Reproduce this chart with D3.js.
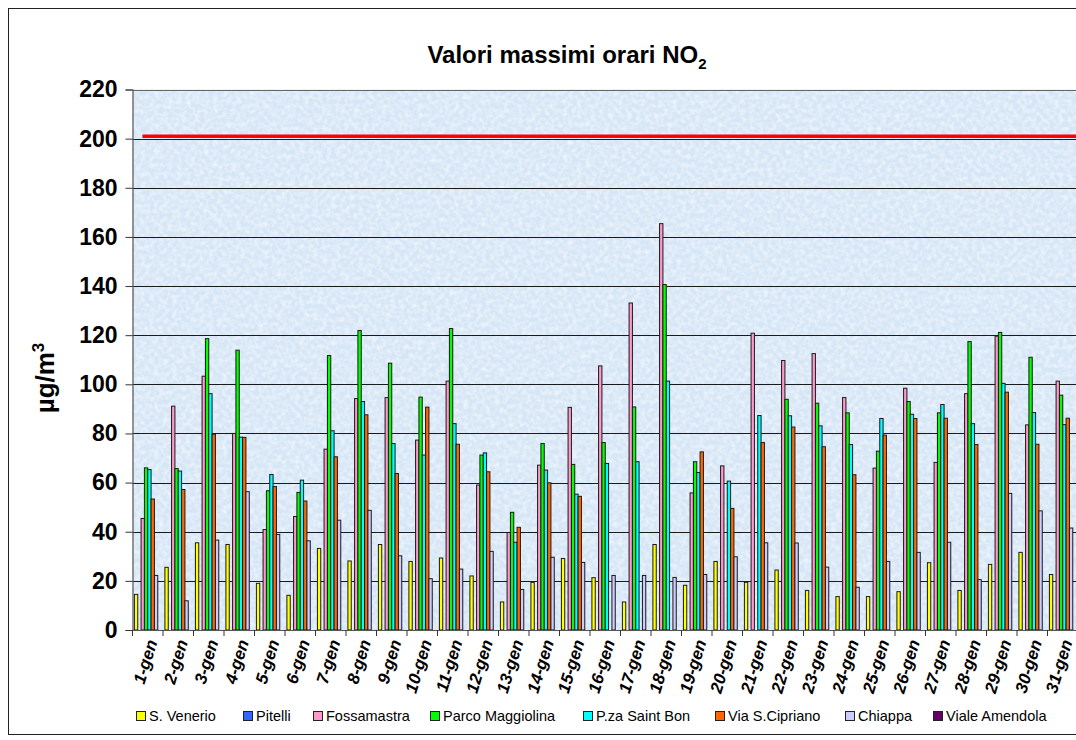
<!DOCTYPE html>
<html><head><meta charset="utf-8">
<script src="https://cdn.jsdelivr.net/npm/d3@7"></script>
<style>
html,body{margin:0;padding:0;background:#fff;}
svg{display:block;font-family:"Liberation Sans",Arial,sans-serif;}
</style></head>
<body>
<svg id="chart" width="1076" height="740"></svg>
<script>
const days = ["1-gen","2-gen","3-gen","4-gen","5-gen","6-gen","7-gen","8-gen","9-gen","10-gen","11-gen","12-gen","13-gen","14-gen","15-gen","16-gen","17-gen","18-gen","19-gen","20-gen","21-gen","22-gen","23-gen","24-gen","25-gen","26-gen","27-gen","28-gen","29-gen","30-gen","31-gen"];
const seriesNames = ["S. Venerio","Pitelli","Fossamastra","Parco Maggiolina","P.za Saint Bon","Via S.Cipriano","Chiappa","Viale Amendola"];
const seriesColors = ["#ffff00","#3366ff","#ff99cc","#00ff00","#00ffff","#ff6600","#ccccff","#660066"];

const sVenerio = [14.5,25.5,35.5,34.8,19,14.1,33.2,28.1,34.8,27.9,29.3,22,11.4,19.4,29.1,21.3,11.4,34.8,18.2,27.9,19.4,24.4,16.1,13.6,13.6,15.6,27.4,16.1,26.7,31.6,22.6];
const pitelli = [null,null,null,null,null,null,null,null,null,null,null,null,null,null,null,null,null,null,null,null,null,null,null,null,null,null,null,null,null,null,null];
const fossamastra = [45.4,91.1,103.3,80,40.9,46.2,73.6,94.2,94.6,77.3,101.3,59,39.7,67.1,90.6,107.5,133.1,165.4,55.8,66.8,120.8,109.7,112.5,94.6,65.9,98.4,68.2,96.2,119.6,83.5,101.3];
const parcoMaggiolina = [66,65.7,118.6,113.9,56.7,56,111.7,121.9,108.6,94.8,122.7,71.2,47.9,75.9,67.4,76.3,90.8,140.6,68.5,null,null,93.9,92.3,88.4,72.8,93,88.4,117.4,121.1,111,95.6];
const pzaSaintBon = [65.3,64.7,96.2,78.5,63.3,61,81.1,93,75.9,71.2,84,72.1,35.7,65.1,55.3,67.8,68.5,101.3,64.1,60.6,87.3,87.2,83.1,75.5,86.1,87.8,91.8,84,100.4,88.5,83.6];
const viaSCipriano = [53.3,57.2,79.7,78.4,58.4,52.5,70.5,87.6,63.7,90.7,75.6,64.4,41.8,59.9,54.4,null,null,null,72.5,49.5,76.3,82.6,74.6,63.2,79.3,86.1,86.2,75.5,96.8,75.6,86.2];
const chiappa = [22.2,11.9,36.6,56.3,38.9,36.3,44.7,48.7,30.2,20.9,24.8,32,16.5,29.6,27.5,22.2,22.2,21.4,22.6,29.8,35.5,35.4,25.6,17.4,27.9,31.6,35.7,20.5,55.6,48.5,41.5];
const vialeAmendola = [null,null,null,null,null,null,null,null,null,null,null,null,null,null,null,null,null,null,null,null,null,null,null,null,null,null,null,null,null,null,null];
const yTicks = [0,20,40,60,80,100,120,140,160,180,200,220];
const limitValue = 201;

const seriesValues = [sVenerio,pitelli,fossamastra,parcoMaggiolina,pzaSaintBon,viaSCipriano,chiappa,vialeAmendola];

const svg = d3.select("#chart");
const W = 1076, H = 740;
const plot = {left:132.5, right:1078, top:89.5, bottom:630};

// defs: texture
const defs = svg.append("defs");
const f = defs.append("filter").attr("id","tex").attr("x",0).attr("y",0).attr("width","100%").attr("height","100%");
f.append("feTurbulence").attr("type","fractalNoise").attr("baseFrequency","0.22").attr("numOctaves",2).attr("seed",7).attr("result","n");
f.append("feColorMatrix").attr("in","n").attr("type","matrix")
 .attr("values","0 0 0 0 1  0 0 0 0 1  0 0 0 0 1  2.2 0 0 0 -0.8");

svg.append("rect").attr("width",W).attr("height",H).attr("fill","#fff");
// outer frame
svg.append("rect").attr("x",8.5).attr("y",8.5).attr("width",1140).attr("height",726).attr("fill","none").attr("stroke","#222").attr("stroke-width",1);

const x = d3.scaleBand().domain(days).range([plot.left, plot.right]).paddingInner(0.125).paddingOuter(0.0625);
const xs = d3.scaleBand().domain(seriesNames).range([0, x.bandwidth()]);
const y = d3.scaleLinear().domain([0,220]).range([plot.bottom, plot.top]);

// plot background
svg.append("rect").attr("x",plot.left).attr("y",plot.top).attr("width",plot.right-plot.left).attr("height",plot.bottom-plot.top).attr("fill","#d6e6f6");
svg.append("rect").attr("x",plot.left).attr("y",plot.top).attr("width",plot.right-plot.left).attr("height",plot.bottom-plot.top).attr("filter","url(#tex)").attr("opacity",0.55);

// gridlines
svg.append("g").selectAll("line").data(yTicks.filter(d=>d>0)).join("line")
 .attr("x1",plot.left).attr("x2",plot.right)
 .attr("y1",d=>Math.round(y(d))+0.5).attr("y2",d=>Math.round(y(d))+0.5)
 .attr("stroke",d=>d===220?"#666":"#1a1a1a").attr("stroke-width",1);

// bars
const gBars = svg.append("g");
seriesNames.forEach((name,si)=>{
  const vals = seriesValues[si];
  gBars.append("g").selectAll("rect")
   .data(days.map((d,i)=>({day:d,v:vals[i]})).filter(o=>o.v!=null))
   .join("rect")
   .attr("x",o=>x(o.day)+xs(name))
   .attr("width",xs.bandwidth())
   .attr("y",o=>y(o.v))
   .attr("height",o=>y(0)-y(o.v))
   .attr("fill",seriesColors[si])
   .attr("stroke","#1a1a1a").attr("stroke-width",1);
});

// limit line
svg.append("line")
 .attr("x1",x(days[0])+x.bandwidth()*0.3).attr("x2",plot.right)
 .attr("y1",y(limitValue)).attr("y2",y(limitValue))
 .attr("stroke","#ff0000").attr("stroke-width",3.5);

// y axis
const yAxis = d3.axisLeft(y).tickValues(yTicks).tickSize(7).tickPadding(8);
const gy = svg.append("g").attr("transform",`translate(${plot.left},0)`).call(yAxis);
gy.select(".domain").attr("stroke","#555").attr("stroke-width",1.2);
gy.selectAll(".tick line").attr("stroke","#333");
gy.selectAll(".tick text").attr("font-size",23).attr("font-weight","bold").attr("fill","#000")
  .attr("font-family","'Liberation Sans',Arial,sans-serif");

// x axis
const gx = svg.append("g").attr("transform",`translate(0,${plot.bottom})`);
gx.append("line").attr("x1",plot.left).attr("x2",plot.right).attr("y1",0.5).attr("y2",0.5).attr("stroke","#555").attr("stroke-width",1.2);
const step = x.step();
gx.selectAll("line.tk").data(days).join("line").attr("class","tk")
 .attr("x1",d=>x(d)-x.paddingInner()*step/2).attr("x2",d=>x(d)-x.paddingInner()*step/2)
 .attr("y1",0).attr("y2",6).attr("stroke","#333");
gx.selectAll("text").data(days).join("text")
 .attr("transform",d=>`translate(${x(d)+x.bandwidth()/2+4},10) rotate(-73)`)
 .attr("text-anchor","end").attr("dy","0.35em")
 .attr("font-size",17).attr("font-weight","bold").attr("font-style","italic")
 .text(d=>d);

// title
const title = svg.append("text").attr("x",567).attr("y",63).attr("text-anchor","middle")
 .attr("font-size",24).attr("font-weight","bold");
title.append("tspan").text("Valori massimi orari NO");
title.append("tspan").attr("font-size",15).attr("dy",6).text("2");

// y label
const yl = svg.append("text").attr("transform","translate(54,378) rotate(-90)").attr("text-anchor","middle")
 .attr("font-size",26).attr("font-weight","bold");
yl.append("tspan").text("µg/m");
yl.append("tspan").attr("font-size",17).attr("dy",-10).text("3");

// legend
const legendX = [136,243,313,430,583,715,845,933];
const lg = svg.append("g");
seriesNames.forEach((name,i)=>{
  const g = lg.append("g").attr("transform",`translate(${legendX[i]},716)`);
  g.append("rect").attr("x",0.5).attr("y",-4.5).attr("width",9).attr("height",9).attr("fill",seriesColors[i]).attr("stroke","#222");
  g.append("text").attr("x",13).attr("y",0).attr("dy","0.35em").attr("font-size",14.5).text(name);
});
</script>
</body></html>
